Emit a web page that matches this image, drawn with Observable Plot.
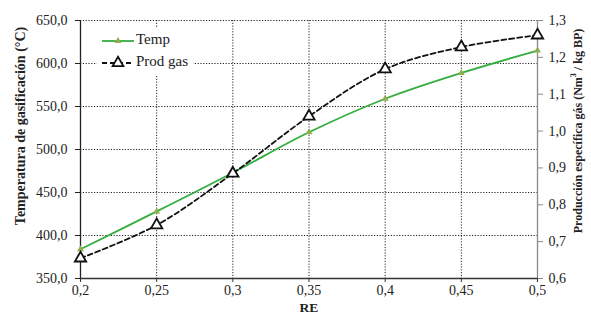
<!DOCTYPE html>
<html>
<head>
<meta charset="utf-8">
<script src="https://cdn.jsdelivr.net/npm/d3@7"></script>
<script src="https://cdn.jsdelivr.net/npm/@observablehq/plot@0.6"></script>
<style>
  html, body { margin: 0; padding: 0; background: #fff; }
  #chart { width: 591px; height: 322px; }
  #chart svg, #chart svg text { font-family: 'Liberation Serif', 'Times New Roman', serif; }
</style>
</head>
<body>
<div id="chart"></div>
<script>
// ---- data ----
const re = [0.2, 0.25, 0.3, 0.35, 0.4, 0.45, 0.5];
const temp = [384, 428, 473, 520, 559, 589, 615];            // °C (left axis)
const prodGas = [0.655, 0.745, 0.885, 1.04, 1.168, 1.228, 1.26]; // Nm3/kg BP (right axis)
const xTicks = [0.2, 0.25, 0.3, 0.35, 0.4, 0.45, 0.5];
const leftTicks = [350, 400, 450, 500, 550, 600, 650];
const rightTicks = [0.6, 0.7, 0.8, 0.9, 1.0, 1.1, 1.2, 1.3];

const leftDomain = [350, 650];
const rightDomain = [0.6, 1.3];
const toLeft = v => leftDomain[0] + (v - rightDomain[0]) * (leftDomain[1] - leftDomain[0]) / (rightDomain[1] - rightDomain[0]);
const toRight = v => rightDomain[0] + (v - leftDomain[0]) * (rightDomain[1] - rightDomain[0]) / (leftDomain[1] - leftDomain[0]);

const tempData = re.map((x, i) => ({x, y: temp[i]}));
const gasData = re.map((x, i) => ({x, y: toLeft(prodGas[i]), v: prodGas[i]}));
const comma = (d, n) => d.toFixed(n).replace(".", ",");
const fmtX = d => String(+d.toFixed(2)).replace(".", ",");

const GREEN = "#34ad3f";
const OLIVE = "#8fae4e";
const FONT = "'Liberation Serif', 'Times New Roman', serif";
const gridStyle = {stroke: "#000", strokeOpacity: 0.85, strokeDasharray: "1.2,1.6", strokeWidth: 1};

const chart = Plot.plot({
  width: 591,
  height: 322,
  marginLeft: 80,
  marginRight: 54,
  marginTop: 20,
  marginBottom: 44,
  style: {fontFamily: FONT, fontSize: "14px", color: "#222", background: "#fff"},
  x: {domain: [0.2, 0.5]},
  y: {domain: leftDomain},
  marks: [
    Plot.gridY(leftTicks, gridStyle),
    Plot.gridX(xTicks, gridStyle),
    Plot.ruleX([0.5], {stroke: "#8a8a8a", strokeWidth: 1.3}),
    Plot.ruleX([0.2], {stroke: "#222", strokeWidth: 1.3}),
    Plot.ruleY([350], {stroke: "#333", strokeWidth: 1.5}),
    Plot.axisY(leftTicks, {anchor: "left", tickFormat: d => comma(d, 1), tickSize: 5, tickPadding: 8, label: null, fontSize: 14, stroke: "#222"}),
    Plot.axisY(rightTicks.map(toLeft), {anchor: "right", tickFormat: d => comma(toRight(d), 1), tickSize: 5, tickPadding: 6, label: null, fontSize: 14, stroke: "#8a8a8a"}),
    Plot.axisX(xTicks, {anchor: "bottom", tickFormat: fmtX, tickSize: 4, tickPadding: 3, label: null, fontSize: 14, stroke: "#333"}),
    Plot.line(tempData, {x: "x", y: "y", stroke: GREEN, strokeWidth: 1.8, curve: "catmull-rom"}),
    Plot.dot(tempData, {x: "x", y: "y", symbol: "triangle", r: 2.6, fill: OLIVE, stroke: "none"}),
    Plot.line(gasData, {x: "x", y: "y", stroke: "#111", strokeWidth: 1.8, strokeDasharray: "5,3", curve: "catmull-rom"}),
    Plot.dot(gasData, {x: "x", y: "y", symbol: "triangle", r: 4.2, fill: "#fff", stroke: "#111", strokeWidth: 1.8})
  ]
});

const svg = d3.select(chart);
// axis titles
svg.append("text")
  .attr("transform", "translate(22,126) rotate(-90)")
  .attr("text-anchor", "middle").attr("dominant-baseline", "middle")
  .attr("font-family", FONT).attr("font-weight", "bold").attr("font-size", 14).attr("fill", "#222")
  .text("Temperatura de gasificación (°C)");
const rt = svg.append("text")
  .attr("transform", "translate(579,131) rotate(-90)")
  .attr("text-anchor", "middle").attr("dominant-baseline", "middle")
  .attr("font-family", FONT).attr("font-weight", "bold").attr("font-size", 12).attr("fill", "#222");
rt.append("tspan").text("Producción específica gás (Nm");
rt.append("tspan").attr("font-size", 8).attr("dy", -5).text("3");
rt.append("tspan").attr("dy", 5).text(" / kg BP)");
svg.append("text")
  .attr("x", 309).attr("y", 312).attr("text-anchor", "middle")
  .attr("font-family", FONT).attr("font-weight", "bold").attr("font-size", 13.5).attr("fill", "#222")
  .text("RE");

// legend
const lg = svg.append("g").attr("text-anchor", "start");
lg.append("rect").attr("x", 97).attr("y", 27).attr("width", 96).attr("height", 48).attr("fill", "#ffffff").attr("stroke", "none");
const rows = [
  {label: "Temp", y: 41, stroke: GREEN, dash: null, sym: {size: 20, fill: OLIVE, stroke: "none", sw: 0}},
  {label: "Prod gas", y: 63, stroke: "#111", dash: "5,3", sym: {size: 50, fill: "#fff", stroke: "#111", sw: 1.8}}
];
rows.forEach(r => {
  lg.append("line").attr("x1", 102).attr("x2", 134).attr("y1", r.y).attr("y2", r.y)
    .attr("stroke", r.stroke).attr("stroke-width", 1.8).attr("stroke-dasharray", r.dash);
  lg.append("path").attr("d", d3.symbol(d3.symbolTriangle, r.sym.size)())
    .attr("transform", `translate(118,${r.y})`)
    .attr("fill", r.sym.fill).attr("stroke", r.sym.stroke).attr("stroke-width", r.sym.sw);
  lg.append("text").attr("x", 136).attr("y", r.y).attr("text-anchor", "start").attr("dominant-baseline", "middle")
    .attr("font-family", FONT).attr("font-size", 15).attr("fill", "#222").text(r.label);
});

document.getElementById("chart").appendChild(chart);
</script>
</body>
</html>
